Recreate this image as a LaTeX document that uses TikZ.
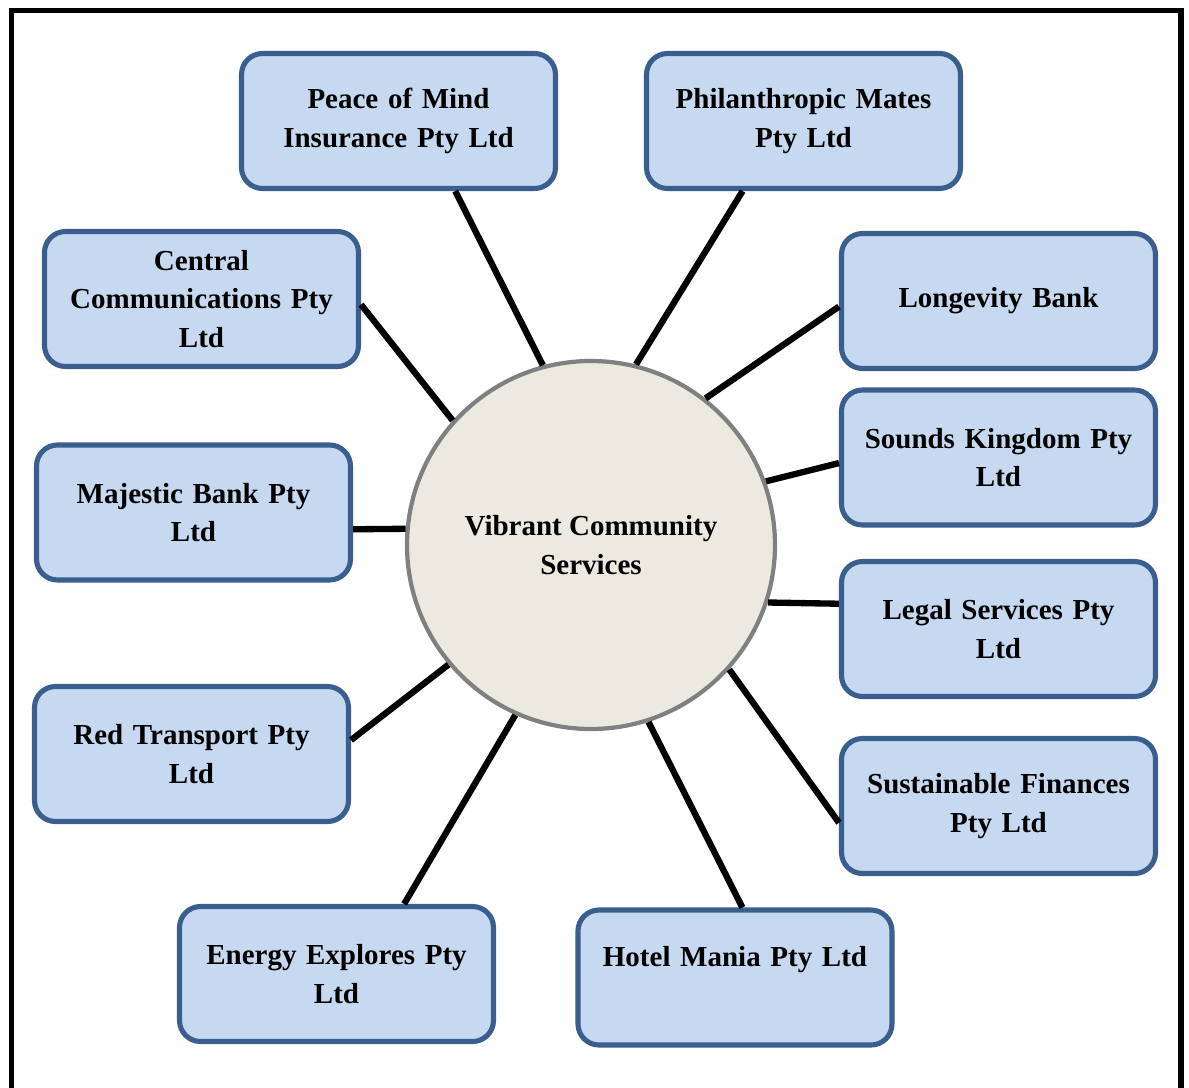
\documentclass[tikz,border=0pt]{standalone}
\usepackage{fontspec}
\setmainfont{Liberation Serif}
\usetikzlibrary{shapes.geometric,positioning}
\definecolor{boxfill}{HTML}{C6D9F0}
\definecolor{boxline}{HTML}{3A5F8F}
\definecolor{hubfill}{HTML}{ECEAE0}
\definecolor{hubline}{HTML}{808080}
\tikzset{firm/.style={draw=boxline, fill=boxfill, line width=2.9pt, rounded corners=0.42cm,
         minimum width=6.28cm, minimum height=2.7cm, align=center, text width=6cm,
         font=\fontsize{16.5}{21.9}\selectfont\bfseries},
         hub/.style={circle, draw=hubline, fill=hubfill, line width=2.4pt, minimum size=7.36cm,
         align=center, font=\fontsize{16.5}{21.9}\selectfont\bfseries},
         link/.style={line width=3.6pt, black}}

\begin{document}
\begin{tikzpicture}
   \useasboundingbox (0,0) rectangle (23.78,-21.76);
   % frame, open at the bottom
   \draw[line width=3.4pt] (0.23,-22) -- (0.23,-0.21) -- (23.62,-0.21) -- (23.62,-22);

   \node[hub] (vcs) at (11.82,-10.90) {Vibrant Community\\ Services};

   \node[firm] (peace) at (7.97,-2.42) {Peace of Mind\\ Insurance Pty Ltd};
   \node[firm] (phil) at (16.07,-2.42) {Philanthropic Mates\\ Pty Ltd};
   \node[firm] (central) at (4.03,-5.98) {Central\\ Communications Pty\\ Ltd};
   \node[firm] (longevity) at (19.97,-6.02) {Longevity Bank};
   \node[firm] (sounds) at (19.97,-9.15) {Sounds Kingdom Pty\\ Ltd};
   \node[firm] (majestic) at (3.87,-10.25) {Majestic Bank Pty\\ Ltd};
   \node[firm] (legal) at (19.97,-12.58) {Legal Services Pty\\ Ltd};
   \node[firm] (red) at (3.83,-15.08) {Red Transport Pty\\ Ltd};
   \node[firm] (sustain) at (19.97,-16.12) {Sustainable Finances\\ Pty Ltd};
   \node[firm] (energy) at (6.73,-19.48) {Energy Explores Pty\\ Ltd};
   \node[firm, text depth=0.86cm] (hotel) at (14.70,-19.55) {Hotel Mania Pty Ltd};

   \draw[link] (peace.-51) -- (vcs.105);
   \draw[link] (phil.-131) -- (vcs.76);
   \draw[link] (central.-2) -- (vcs.138);
   \draw[link] (longevity.182) -- (vcs.52);
   \draw[link] (sounds.182) -- (vcs.20);
   \draw[link] (majestic.-6) -- (vcs.175);
   \draw[link] (legal.171) -- (vcs.-18);
   \draw[link] (red.5) -- (vcs.220);
   \draw[link] (sustain.186) -- (vcs.-42);
   \draw[link] (energy.46) -- (vcs.246);
   \draw[link] (hotel.84) -- (vcs.-72);
\end{tikzpicture}
\end{document}
